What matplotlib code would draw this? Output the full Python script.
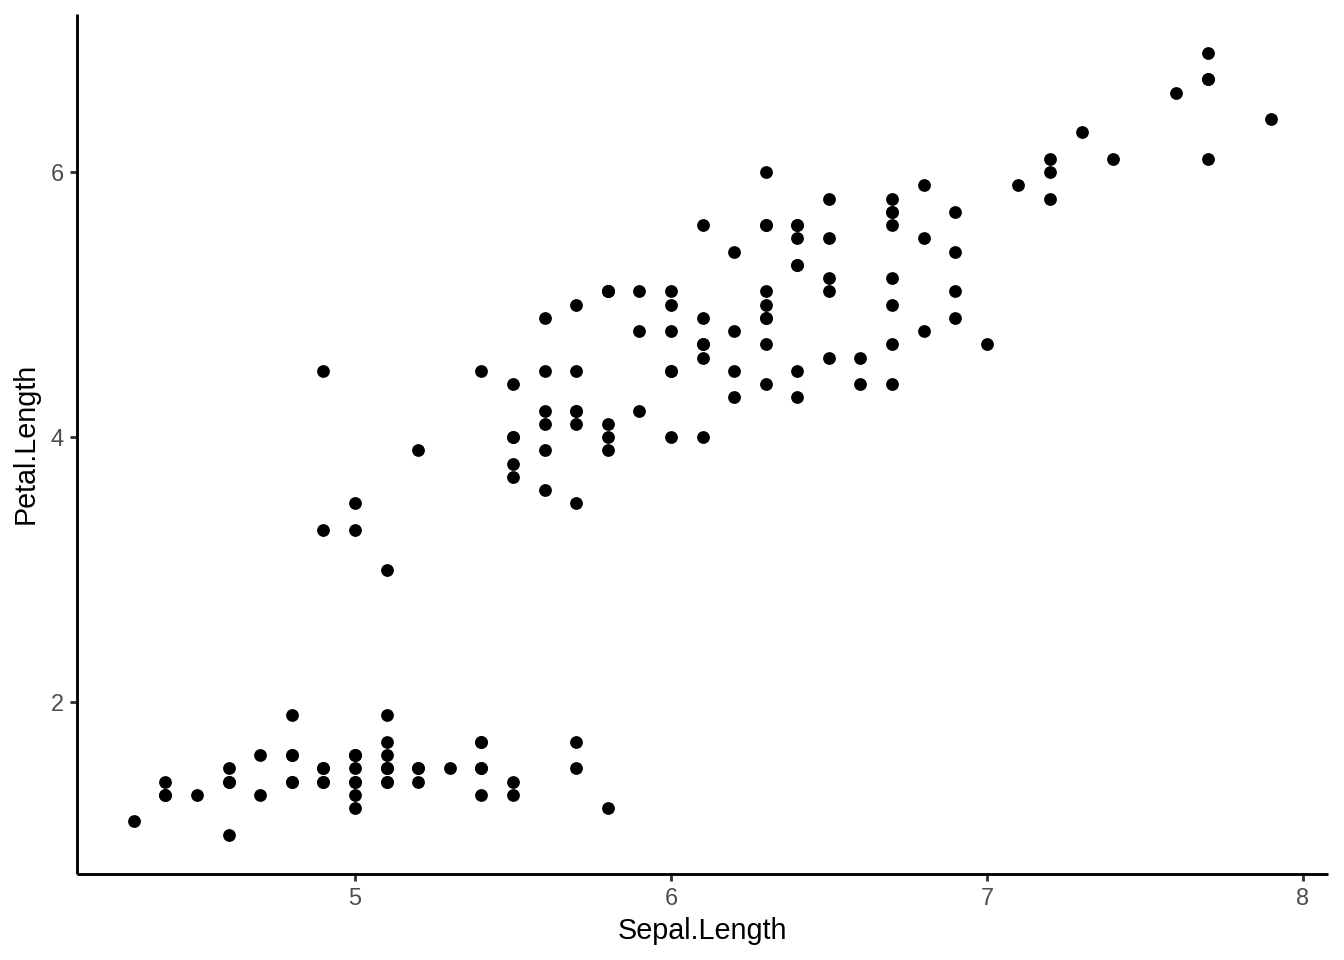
import matplotlib
matplotlib.use("Agg")
import matplotlib.pyplot as plt

sepal_length = [
    5.1,4.9,4.7,4.6,5.0,5.4,4.6,5.0,4.4,4.9,5.4,4.8,4.8,4.3,5.8,5.7,5.4,5.1,5.7,5.1,
    5.4,5.1,4.6,5.1,4.8,5.0,5.0,5.2,5.2,4.7,4.8,5.4,5.2,5.5,4.9,5.0,5.5,4.9,4.4,5.1,
    5.0,4.5,4.4,5.0,5.1,4.8,5.1,4.6,5.3,5.0,
    7.0,6.4,6.9,5.5,6.5,5.7,6.3,4.9,6.6,5.2,5.0,5.9,6.0,6.1,5.6,6.7,5.6,5.8,6.2,5.6,
    5.9,6.1,6.3,6.1,6.4,6.6,6.8,6.7,6.0,5.7,5.5,5.5,5.8,6.0,5.4,6.0,6.7,6.3,5.6,5.5,
    5.5,6.1,5.8,5.0,5.6,5.7,5.7,6.2,5.1,5.7,
    6.3,5.8,7.1,6.3,6.5,7.6,4.9,7.3,6.7,7.2,6.5,6.4,6.8,5.7,5.8,6.4,6.5,7.7,7.7,6.0,
    6.9,5.6,7.7,6.3,6.7,7.2,6.2,6.1,6.4,7.2,7.4,7.9,6.4,6.3,6.1,7.7,6.3,6.4,6.0,6.9,
    6.7,6.9,5.8,6.8,6.7,6.7,6.3,6.5,6.2,5.9,
]
petal_length = [
    1.4,1.4,1.3,1.5,1.4,1.7,1.4,1.5,1.4,1.5,1.5,1.6,1.4,1.1,1.2,1.5,1.3,1.4,1.7,1.5,
    1.7,1.5,1.0,1.7,1.9,1.6,1.6,1.5,1.4,1.6,1.6,1.5,1.5,1.4,1.5,1.2,1.3,1.4,1.3,1.5,
    1.3,1.3,1.3,1.6,1.9,1.4,1.6,1.4,1.5,1.4,
    4.7,4.5,4.9,4.0,4.6,4.5,4.7,3.3,4.6,3.9,3.5,4.2,4.0,4.7,3.6,4.4,4.5,4.1,4.5,3.9,
    4.8,4.0,4.9,4.7,4.3,4.4,4.8,5.0,4.5,3.5,3.8,3.7,3.9,5.1,4.5,4.5,4.7,4.4,4.1,4.0,
    4.4,4.6,4.0,3.3,4.2,4.2,4.2,4.3,3.0,4.1,
    6.0,5.1,5.9,5.6,5.8,6.6,4.5,6.3,5.8,6.1,5.1,5.3,5.5,5.0,5.1,5.3,5.5,6.7,6.9,5.0,
    5.7,4.9,6.7,4.9,5.7,6.0,4.8,4.9,5.6,5.8,6.1,6.4,5.6,5.1,5.6,6.1,5.6,5.5,4.8,5.4,
    5.6,5.1,5.1,5.9,5.7,5.2,5.0,5.2,5.4,5.1,
]
x_ticks = [5, 6, 7, 8]
y_ticks = [2, 4, 6]

plt.rcParams['font.family'] = ['Liberation Sans', 'DejaVu Sans']

fig = plt.figure(figsize=(7, 5), dpi=192)
W, H = 1344, 960
left, right, top, bottom = 77, 1328, 13.7, 873.6
ax = fig.add_axes([left / W, (H - bottom) / H, (right - left) / W, (bottom - top) / H])

ax.scatter(sepal_length, petal_length, s=23, color='black', linewidths=0, zorder=3)

xmin, xmax = min(sepal_length), max(sepal_length)
ymin, ymax = min(petal_length), max(petal_length)
dx, dy = (xmax - xmin) * 0.05, (ymax - ymin) * 0.05
ax.set_xlim(xmin - dx, xmax + dx)
ax.set_ylim(ymin - dy, ymax + dy)
ax.set_xticks(x_ticks)
ax.set_yticks(y_ticks)

for s in ['top', 'right']:
    ax.spines[s].set_visible(False)
for s in ['left', 'bottom']:
    ax.spines[s].set_linewidth(1.07)
    ax.spines[s].set_color('black')
    ax.spines[s].set_capstyle('butt')

ax.tick_params(axis='both', length=2.75, width=1.07, color='#333333',
               labelcolor='#4D4D4D', labelsize=8.8, pad=2.2)
ax.set_xlabel('Sepal.Length', fontsize=10.8, color='black', labelpad=2.75)
ax.set_ylabel('Petal.Length', fontsize=10.8, color='black', labelpad=4.2)

fig.savefig('out.png', dpi=192, facecolor='white')
